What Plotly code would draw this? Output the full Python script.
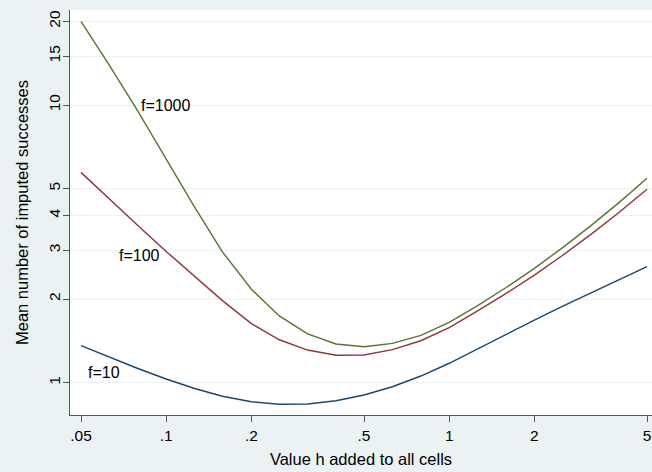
import math
import plotly.graph_objects as go

# Value h added to all cells (x, log scale)
h_values = [0.05, 0.063, 0.0794, 0.1, 0.126, 0.158, 0.2, 0.251, 0.316, 0.398, 0.5,
            0.63, 0.794, 1.0, 1.26, 1.585, 2.0, 2.51, 3.16, 3.98, 5.0]

# Mean number of imputed successes for each f
f1000 = [20.0, 13.9, 9.5, 6.37, 4.29, 2.96, 2.17, 1.74, 1.50, 1.378, 1.348,
         1.386, 1.481, 1.65, 1.894, 2.197, 2.58, 3.06, 3.67, 4.45, 5.45]
f100 = [5.72, 4.58, 3.68, 2.97, 2.41, 1.975, 1.632, 1.428, 1.311, 1.255, 1.258,
        1.315, 1.416, 1.58, 1.813, 2.092, 2.44, 2.87, 3.415, 4.10, 4.97]
f10 = [1.359, 1.234, 1.125, 1.031, 0.953, 0.894, 0.854, 0.836, 0.838, 0.861, 0.903,
       0.967, 1.057, 1.175, 1.326, 1.493, 1.68, 1.882, 2.106, 2.35, 2.617]

series_names = ["f=10", "f=100", "f=1000"]
x_tickvals = [0.05, 0.1, 0.2, 0.5, 1, 2, 5]
x_ticktext = [".05", ".1", ".2", ".5", "1", "2", "5"]
y_tickvals = [1, 2, 3, 4, 5, 10, 15, 20]
y_ticktext = ["1", "2", "3", "4", "5", "10", "15", "20"]

# label anchor points (h, value) for the text labels
label_h = [0.052, 0.067, 0.0801]
label_v = [1.09, 2.88, 10.0]

colors = ["#1A476F", "#90353B", "#55752F"]
FONT = "Arial, Liberation Sans, Helvetica, sans-serif"

fig = go.Figure()
for name, ys, c in zip(series_names, [f10, f100, f1000], colors):
    fig.add_trace(go.Scatter(x=h_values, y=ys, mode="lines", name=name,
                             line=dict(color=c, width=1.4), showlegend=False))

for name, lh, lv in zip(series_names, label_h, label_v):
    fig.add_annotation(x=math.log10(lh), y=math.log10(lv), xref="x", yref="y",
                       text=name, showarrow=False, xanchor="left", yanchor="middle",
                       font=dict(family=FONT, size=16, color="#000000"))

bg = "#EAF2F3"
fig.update_layout(
    width=652, height=472,
    margin=dict(l=70, r=0, t=10, b=57, autoexpand=False),
    paper_bgcolor=bg, plot_bgcolor="#FFFFFF",
    font=dict(family=FONT, size=15, color="#000000"),
    xaxis=dict(type="log", range=[-1.3399, 0.7166], automargin=False,
               tickvals=x_tickvals, ticktext=x_ticktext, ticklabeloverflow="allow",
               ticks="outside", ticklen=6, tickcolor="#555555", tickwidth=1,
               showline=True, linecolor="#555555", linewidth=1.2,
               showgrid=False, zeroline=False,
               title=dict(text="Value h added to all cells", standoff=10,
                          font=dict(family=FONT, size=16.5)),
               tickfont=dict(family=FONT, size=15.5)),
    yaxis=dict(type="log", range=[-0.1163, 1.3421], automargin=False,
               tickvals=y_tickvals, ticktext=y_ticktext, tickangle=-90,
               ticklabeloverflow="allow", ticklabelstandoff=-3,
               ticks="outside", ticklen=6, tickcolor="#555555", tickwidth=1,
               showline=True, linecolor="#555555", linewidth=1.2,
               showgrid=True, gridcolor=bg, gridwidth=1.2, zeroline=False,
               title=dict(text="Mean number of imputed successes", standoff=12,
                          font=dict(family=FONT, size=16.5)),
               tickfont=dict(family=FONT, size=15.5)),
)

fig.write_html("out.html", config={"displayModeBar": False},
               post_script="document.body.style.margin='0px';document.body.style.overflow='hidden';")
